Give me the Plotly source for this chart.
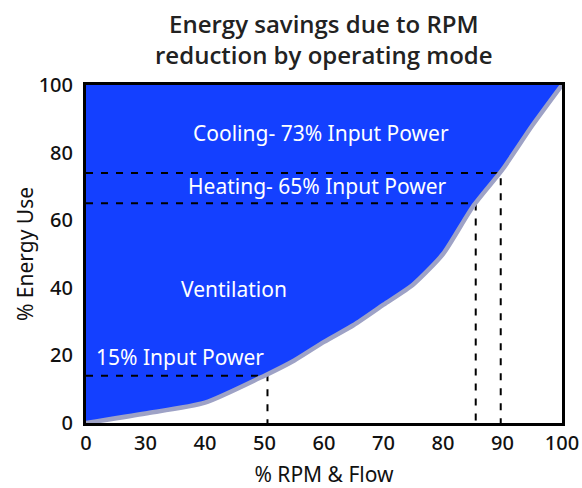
import numpy as np
import plotly.graph_objects as go

# ---- data ----
X_TICK_LABELS = [0, 30, 40, 50, 60, 70, 80, 90, 100]
Y_TICK_LABELS = [0, 20, 40, 60, 80, 100]

RPM_FLOW = [0, 30, 40, 50, 55, 60, 65, 70, 75, 80, 85, 90, 95, 100]
ENERGY_USE = [0, 2.8, 6, 14, 18.5, 24, 29, 35, 41, 50, 64, 75, 88, 100]

MODE_NAMES = ["Ventilation", "Heating", "Cooling"]
MODE_RPM = [50.5, 85.5, 89.7]
MODE_ENERGY = [14, 65, 74]

LABELS = ["Cooling- 73% Input Power", "Heating- 65% Input Power", "Ventilation", "15% Input Power"]

FONT = "Noto Sans"
BLUE = "#1440FF"
CURVE = "#9EA2C6"


def to_pos(v):
    # axis ticks are evenly spaced although their values are not
    return np.interp(v, X_TICK_LABELS, np.arange(len(X_TICK_LABELS)))


xp = to_pos(RPM_FLOW)
fig = go.Figure()

# base line for fill
fig.add_trace(go.Scatter(x=xp, y=ENERGY_USE, mode="lines",
                         line=dict(width=0, shape="spline", smoothing=0.6),
                         showlegend=False, hoverinfo="skip"))
fig.add_trace(go.Scatter(x=xp, y=[100] * len(xp), mode="lines", line=dict(width=0),
                         fill="tonexty", fillcolor=BLUE, showlegend=False, hoverinfo="skip"))

# dashed guide lines
for r, e in zip(MODE_RPM, MODE_ENERGY):
    p = float(to_pos(r))
    fig.add_trace(go.Scatter(x=[0, p, p], y=[e, e, 0], mode="lines",
                             line=dict(color="black", width=2, dash="7px,8px"),
                             showlegend=False, hoverinfo="skip"))

# curve
fig.add_trace(go.Scatter(x=xp, y=ENERGY_USE, mode="lines",
                         line=dict(color=CURVE, width=4.5, shape="spline", smoothing=0.6),
                         showlegend=False))

ann_pos = [(3.95, 85.8), (3.89, 70.1), (2.49, 39.6), (1.58, 19.5)]
for t, (ax_, ay_) in zip(LABELS, ann_pos):
    fig.add_annotation(x=ax_, y=ay_, text=t, showarrow=False,
                       font=dict(family=FONT, size=21, color="white"))

# title as annotation
fig.add_annotation(xref="paper", yref="paper", x=0.5, y=1.135, yanchor="middle",
                   text="Energy savings due to RPM<br>reduction by operating mode",
                   showarrow=False,
                   font=dict(family="Open Sans", size=24, color="#222", weight=600))

fig.update_layout(
    width=582, height=488,
    margin=dict(l=86, r=20, t=85, b=65, autoexpand=False),
    paper_bgcolor="white", plot_bgcolor="white",
    font=dict(family=FONT, color="#111", size=20),
)
fig.update_xaxes(range=[0, len(X_TICK_LABELS) - 1],
                 tickvals=list(range(len(X_TICK_LABELS))),
                 ticktext=[str(v) for v in X_TICK_LABELS],
                 showgrid=False, zeroline=False, showline=True, mirror=True,
                 linecolor="black", linewidth=3, ticks="", automargin=False,
                 title=dict(text="% RPM & Flow", font=dict(size=21), standoff=14),
                 tickfont=dict(size=20, weight=500))
fig.update_yaxes(range=[0, 100], tickvals=Y_TICK_LABELS,
                 showgrid=False, zeroline=False, showline=True, mirror=True,
                 linecolor="black", linewidth=3, ticks="", automargin=False,
                 ticklabelstandoff=6,
                 title=dict(text="% Energy Use", font=dict(size=21), standoff=0),
                 tickfont=dict(size=20, weight=500))

fig.write_html("out.html", config={"displayModeBar": False},
               post_script="document.body.style.margin='0';")
